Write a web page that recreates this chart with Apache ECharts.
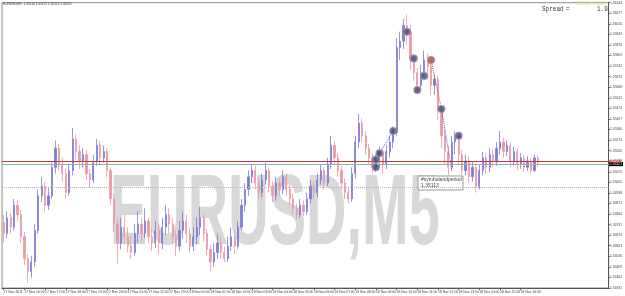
<!DOCTYPE html>
<html><head><meta charset="utf-8">
<script src="https://cdn.jsdelivr.net/npm/echarts@6/dist/echarts.min.js"></script>
<style>html,body{margin:0;padding:0;background:#fff}#c{width:625px;height:296px}</style>
</head><body><div id="c"></div>
<script>
// ---- data (EURUSD, 10-minute bars) ----
const hourLabels = ["17 Nov 2011","17 Nov 16:00","17 Nov 17:00","17 Nov 18:00","17 Nov 19:00","17 Nov 20:00","17 Nov 21:00","17 Nov 22:00","17 Nov 23:00","18 Nov 00:00","18 Nov 01:00","18 Nov 02:00","18 Nov 03:00","18 Nov 04:00","18 Nov 05:00","18 Nov 06:00","18 Nov 07:00","18 Nov 08:00","18 Nov 09:00","18 Nov 10:00","18 Nov 11:00","18 Nov 12:00","18 Nov 13:00","18 Nov 14:00","18 Nov 15:00","18 Nov 16:00"];
const slotsTotal = 176;
const yMin = 1.34335, yMax = 1.36144, yStep = 0.00067;
// [open, close, low, high]
const bars = [
[1.3475,1.3468,1.3462,1.3480],[1.3468,1.3478,1.3465,1.3482],[1.3478,1.3472,1.3468,1.3481],[1.3472,1.3486,1.3470,1.3490],
[1.3486,1.3480,1.3476,1.3489],[1.3480,1.3466,1.3462,1.3483],[1.3466,1.3452,1.3448,1.3469],[1.3452,1.3444,1.3437,1.3455],
[1.3444,1.3450,1.3440,1.3454],[1.3450,1.3470,1.3447,1.3474],[1.3470,1.3492,1.3468,1.3496],[1.3492,1.3498,1.3488,1.3504],
[1.3498,1.3486,1.3482,1.3501],[1.3486,1.3492,1.3483,1.3497],[1.3492,1.3510,1.3490,1.3513],[1.3510,1.3522,1.3506,1.3527],
[1.3522,1.3512,1.3508,1.3525],[1.3512,1.3506,1.3501,1.3516],[1.3506,1.3494,1.3490,1.3509],[1.3494,1.3508,1.3492,1.3512],
[1.3508,1.3528,1.3505,1.3535],[1.3528,1.3520,1.3515,1.3531],[1.3520,1.3514,1.3509,1.3524],[1.3514,1.3518,1.3510,1.3522],
[1.3518,1.3506,1.3502,1.3521],[1.3506,1.3502,1.3497,1.3509],[1.3502,1.3514,1.3500,1.3518],[1.3514,1.3524,1.3511,1.3528],
[1.3524,1.3516,1.3512,1.3527],[1.3516,1.3520,1.3513,1.3524],[1.3520,1.3508,1.3504,1.3522],[1.3508,1.3490,1.3486,1.3510],
[1.3490,1.3474,1.3469,1.3493],[1.3474,1.3462,1.3449,1.3478],[1.3462,1.3472,1.3458,1.3478],[1.3472,1.3466,1.3461,1.3480],
[1.3466,1.3460,1.3456,1.3472],[1.3460,1.3456,1.3452,1.3466],[1.3456,1.3468,1.3454,1.3474],[1.3468,1.3474,1.3462,1.3482],
[1.3474,1.3468,1.3463,1.3478],[1.3468,1.3476,1.3465,1.3484],[1.3476,1.3466,1.3462,1.3478],[1.3466,1.3462,1.3457,1.3472],
[1.3462,1.3470,1.3459,1.3476],[1.3470,1.3462,1.3455,1.3474],[1.3462,1.3472,1.3458,1.3478],[1.3472,1.3480,1.3467,1.3486],
[1.3480,1.3474,1.3468,1.3484],[1.3474,1.3466,1.3461,1.3478],[1.3466,1.3460,1.3454,1.3470],[1.3460,1.3470,1.3457,1.3476],
[1.3470,1.3476,1.3465,1.3482],[1.3476,1.3468,1.3462,1.3480],[1.3468,1.3460,1.3456,1.3472],[1.3460,1.3466,1.3457,1.3472],
[1.3466,1.3472,1.3461,1.3478],[1.3472,1.3478,1.3467,1.3485],[1.3478,1.3468,1.3463,1.3481],[1.3468,1.3458,1.3454,1.3471],
[1.3458,1.3450,1.3444,1.3461],[1.3450,1.3456,1.3447,1.3462],[1.3456,1.3462,1.3452,1.3468],[1.3462,1.3456,1.3452,1.3466],
[1.3456,1.3452,1.3450,1.3460],[1.3452,1.3460,1.3450,1.3466],[1.3460,1.3466,1.3457,1.3472],[1.3466,1.3460,1.3455,1.3470],
[1.3460,1.3472,1.3458,1.3476],[1.3472,1.3486,1.3470,1.3490],[1.3486,1.3496,1.3482,1.3500],[1.3496,1.3504,1.3492,1.3508],
[1.3504,1.3508,1.3500,1.3512],[1.3508,1.3500,1.3496,1.3511],[1.3500,1.3494,1.3490,1.3503],[1.3494,1.3502,1.3491,1.3506],
[1.3502,1.3508,1.3499,1.3513],[1.3508,1.3498,1.3494,1.3510],[1.3498,1.3492,1.3488,1.3501],[1.3492,1.3500,1.3489,1.3504],
[1.3500,1.3496,1.3492,1.3503],[1.3496,1.3504,1.3493,1.3508],[1.3504,1.3496,1.3492,1.3506],[1.3496,1.3490,1.3486,1.3499],
[1.3490,1.3484,1.3480,1.3493],[1.3484,1.3480,1.3477,1.3487],[1.3480,1.3486,1.3478,1.3490],[1.3486,1.3482,1.3479,1.3489],
[1.3482,1.3490,1.3480,1.3494],[1.3490,1.3498,1.3487,1.3502],[1.3498,1.3494,1.3490,1.3501],[1.3494,1.3502,1.3491,1.3506],
[1.3502,1.3508,1.3499,1.3512],[1.3508,1.3500,1.3496,1.3510],[1.3500,1.3512,1.3498,1.3516],[1.3512,1.3524,1.3509,1.3530],
[1.3524,1.3516,1.3512,1.3527],[1.3516,1.3508,1.3504,1.3519],[1.3508,1.3500,1.3496,1.3511],[1.3500,1.3494,1.3490,1.3503],
[1.3494,1.3490,1.3487,1.3497],[1.3490,1.3506,1.3488,1.3510],[1.3506,1.3526,1.3503,1.3530],[1.3526,1.3538,1.3522,1.3544],
[1.3538,1.3530,1.3526,1.3541],[1.3530,1.3522,1.3518,1.3533],[1.3522,1.3516,1.3512,1.3525],[1.3516,1.3510,1.3506,1.3519],
[1.3510,1.3514,1.3507,1.3518],[1.3514,1.3520,1.3510,1.3523],[1.3520,1.3512,1.3506,1.3522],[1.3512,1.3520,1.3509,1.3524],
[1.3520,1.3526,1.3516,1.3530],[1.3526,1.3532,1.3522,1.3536],[1.3532,1.3586,1.3530,1.3592],[1.3586,1.3590,1.3578,1.3596],
[1.3590,1.3600,1.3585,1.3604],[1.3600,1.3596,1.3588,1.3607],[1.3596,1.3578,1.3572,1.3600],[1.3578,1.3570,1.3565,1.3582],
[1.3570,1.3562,1.3557,1.3573],[1.3562,1.3570,1.3560,1.3575],[1.3570,1.3578,1.3568,1.3584],[1.3578,1.3574,1.3566,1.3582],
[1.3574,1.3562,1.3556,1.3576],[1.3562,1.3566,1.3556,1.3569],[1.3566,1.3546,1.3540,1.3568],[1.3546,1.3530,1.3522,1.3548],
[1.3530,1.3520,1.3512,1.3534],[1.3520,1.3510,1.3505,1.3524],[1.3510,1.3526,1.3508,1.3530],[1.3526,1.3530,1.3518,1.3533],
[1.3530,1.3518,1.3512,1.3532],[1.3518,1.3508,1.3504,1.3521],[1.3508,1.3514,1.3505,1.3518],[1.3514,1.3504,1.3500,1.3517],
[1.3504,1.3510,1.3501,1.3514],[1.3510,1.3498,1.3494,1.3512],[1.3498,1.3508,1.3496,1.3512],[1.3508,1.3516,1.3505,1.3520],
[1.3516,1.3510,1.3506,1.3519],[1.3510,1.3518,1.3507,1.3522],[1.3518,1.3514,1.3510,1.3521],[1.3514,1.3522,1.3511,1.3526],
[1.3522,1.3526,1.3518,1.3533],[1.3526,1.3520,1.3516,1.3529],[1.3520,1.3524,1.3517,1.3527],[1.3524,1.3514,1.3510,1.3526],
[1.3514,1.3520,1.3511,1.3523],[1.3520,1.3512,1.3508,1.3522],[1.3512,1.3516,1.3509,1.3519],[1.3516,1.3510,1.3507,1.3518],
[1.3510,1.3514,1.3508,1.3517],[1.3514,1.3508,1.3506,1.3516],[1.3508,1.3516,1.3507,1.3518],[1.3516,1.3513,1.3510,1.3518]
];
const markerIdx   = [108,108,109,113,117,119,120,122,124,127,132];
const markerPrice = [1.3515,1.3510,1.3519,1.3533,1.3596,1.3579,1.3559,1.3568,1.3578,1.3547,1.3530];
const markerKind  = ['b','b','b','b','b','b','b','b','r','b','b'];
const bluePathIdx = [109,113], bluePathPrice = [1.3519,1.3533];
const redPathIdx = [124,127], redPathPrice = [1.3578,1.3547];
const blue2PathIdx = [127,130], blue2PathPrice = [1.3547,1.3508];
const redLevel = 1.35137, bidLevel = 1.35121, dotLevel = 1.34975;
const ohlcTitle = "EURUSD,M5  1.35116 1.35127 1.35113 1.35121";
const popupText = ["#symbolandperiod", "1.35113"];

// ---- chart ----
const cats = [];
for (let i = 0; i < slotsTotal; i++) cats.push(String(i));
const showTick = (i) => i % 6 === 0 && i < bars.length;
const chart = echarts.init(document.getElementById('c'), null, {renderer:'canvas'});
const FONT = '"Liberation Sans", Arial, sans-serif';
const MONO = '"Liberation Mono", "DejaVu Sans Mono", monospace';
chart.setOption({
  animation:false,
  backgroundColor:'#ffffff',
  textStyle:{fontFamily:FONT},
  grid:{left:2, right:13, top:2.7, bottom:8, show:true, borderColor:'#8a8a8a', borderWidth:1},
  xAxis:{type:'category', data:cats, boundaryGap:true,
    axisLine:{show:true, lineStyle:{color:'#555', width:1}},
    axisTick:{show:true, alignWithLabel:true, interval:showTick, length:2, lineStyle:{color:'#555'}},
    axisLabel:{interval:showTick, formatter:(v,i)=>hourLabels[i/6]||'', fontSize:3.4, color:'#444',
      align:'left', margin:2.5, fontFamily:FONT},
    splitLine:{show:false}},
  yAxis:{type:'value', position:'right', min:yMin, max:yMax, interval:yStep, scale:true,
    axisLine:{show:true, lineStyle:{color:'#555'}},
    axisTick:{show:true, length:1.5, lineStyle:{color:'#555'}},
    axisLabel:{fontSize:3.3, color:'#444', margin:1.5, formatter:(v)=>v.toFixed(5), fontFamily:FONT},
    splitLine:{show:false}},
  graphic:[
    {type:'text', z:-10, x:110, y:216, scaleX:0.56, scaleY:1, silent:true,
     style:{text:'EURUSD,M5', font:'bold 100px "Liberation Sans", Arial', fill:'#d8d8d8', verticalAlign:'middle', align:'left'}},
    {type:'text', z:50, x:3, y:4.5, style:{text:ohlcTitle, font:'3.2px "Liberation Sans"', fill:'#333', verticalAlign:'middle'}},
    {type:'text', z:50, x:542, y:9, scaleX:0.75, style:{text:'Spread', font:'8px ' + MONO, fill:'#333', verticalAlign:'middle'}},
    {type:'text', z:50, x:566, y:9, scaleX:0.75, style:{text:'=', font:'8px ' + MONO, fill:'#333', verticalAlign:'middle'}},
    {type:'text', z:50, x:576, y:4, style:{text:'1.3513+0.0019', font:'4.5px "Liberation Sans"', fill:'#e6df74', verticalAlign:'middle'}},
    {type:'text', z:50, x:597, y:9, scaleX:0.75, style:{text:'1.9', font:'8px ' + MONO, fill:'#333', verticalAlign:'middle'}},
    {type:'group', z:50, x:418, y:176, children:[
      {type:'rect', shape:{x:0,y:0,width:45,height:14}, style:{fill:'#ffffff', stroke:'#9a9a9a', lineWidth:1}},
      {type:'text', x:3, y:4, style:{text:popupText[0], font:'5px "Liberation Sans"', fill:'#444', verticalAlign:'middle'}},
      {type:'text', x:3, y:10, style:{text:popupText[1], font:'5px "Liberation Sans"', fill:'#444', verticalAlign:'middle'}}
    ]}
  ],
  series:[
    {type:'candlestick', data:bars, barWidth:1.7, z:3,
     itemStyle:{color:'#7c7cd8', color0:'#ec98a6', borderColor:'#7c7cd8', borderColor0:'#ec98a6', borderWidth:0.8}},
    {type:'line', data:bluePathIdx.map((x,k)=>[x,bluePathPrice[k]]), symbol:'none', z:4,
     lineStyle:{color:'#5050c8', type:'dotted', width:1}},
    {type:'line', data:redPathIdx.map((x,k)=>[x,redPathPrice[k]]), symbol:'none', z:4,
     lineStyle:{color:'#cc4444', type:'dotted', width:1}},
    {type:'line', data:blue2PathIdx.map((x,k)=>[x,blue2PathPrice[k]]), symbol:'none', z:4,
     lineStyle:{color:'#5050c8', type:'dotted', width:1}},
    {type:'scatter', z:5, symbol:'circle', symbolSize:6.5,
     data:markerIdx.map((x,k)=>({value:[x,markerPrice[k]], itemStyle:{color: markerKind[k]==='r' ? '#c03838' : '#3d3d86'}})),
     itemStyle:{borderColor:'#8a8a8a', borderWidth:1.5},
     markLine:{symbol:'none', silent:true, animation:false, precision:5,
       data:[
         {yAxis:dotLevel, lineStyle:{color:'#b5b5b5', type:'dotted', width:1}, label:{show:false}},
         {yAxis:bidLevel, lineStyle:{color:'#a8a8a8', type:'solid', width:1},
          label:{show:true, position:'end', distance:0.5, formatter:bidLevel.toFixed(5), fontSize:3.3, color:'#fff', backgroundColor:'#000', padding:[0.6,1], fontFamily:FONT}},
         {yAxis:redLevel, lineStyle:{color:'#b83c3c', type:'solid', width:1},
          label:{show:true, position:'end', distance:0.5, formatter:redLevel.toFixed(5), fontSize:2.4, color:'#fff', backgroundColor:'#cc3333', padding:[0,1.5], fontFamily:FONT}}
       ]}}
  ]
});
</script></body></html>
